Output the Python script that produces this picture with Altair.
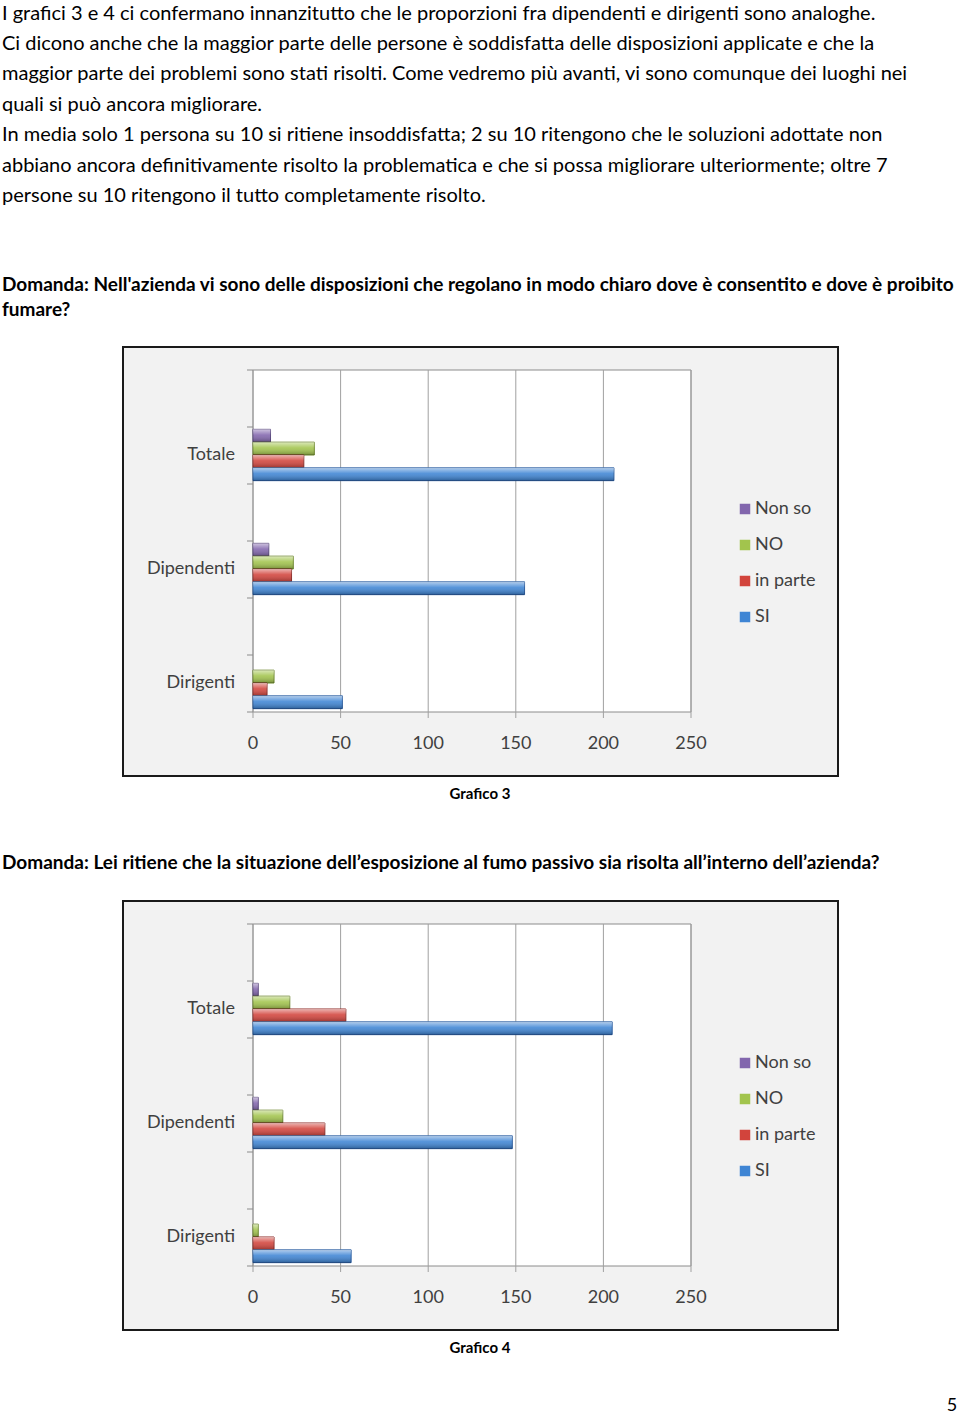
import altair as alt
import pandas as pd

FONT = "Lato"

categories = ["Totale", "Dipendenti", "Dirigenti"]
series = ["Non so", "NO", "in parte", "SI"]

# Grafico 3
g3_non_so = [10, 9, 0]
g3_no = [35, 23, 12]
g3_in_parte = [29, 22, 8]
g3_si = [206, 155, 51]

# Grafico 4
g4_non_so = [3, 3, 0]
g4_no = [21, 17, 3]
g4_in_parte = [53, 41, 12]
g4_si = [205, 148, 56]

x_ticks = [0, 50, 100, 150, 200, 250]

colors = ["#8266ad", "#a2c44d", "#d2443c", "#3f85d4"]
strokes = ["#54427a", "#6b852b", "#8c2824", "#23569a"]

paragraph = [
    "I grafici 3 e 4 ci confermano innanzitutto che le proporzioni fra dipendenti e dirigenti sono analoghe.",
    "Ci dicono anche che la maggior parte delle persone è soddisfatta delle disposizioni applicate e che la",
    "maggior parte dei problemi sono stati risolti. Come vedremo più avanti, vi sono comunque dei luoghi nei",
    "quali si può ancora migliorare.",
    "In media solo 1 persona su 10 si ritiene insoddisfatta; 2 su 10 ritengono che le soluzioni adottate non",
    "abbiano ancora definitivamente risolto la problematica e che si possa migliorare ulteriormente; oltre 7",
    "persone su 10 ritengono il tutto completamente risolto.",
]
question1 = [
    "Domanda: Nell'azienda vi sono delle disposizioni che regolano in modo chiaro dove è consentito e dove è proibito",
    "fumare?",
]
question2 = "Domanda: Lei ritiene che la situazione dell’esposizione al fumo passivo sia risolta all’interno dell’azienda?"


def build_df(non_so, no, in_parte, si):
    rows = []
    for vals, s in zip([non_so, no, in_parte, si], series):
        for c, v in zip(categories, vals):
            rows.append({"categoria": c, "serie": s, "valore": v})
    return pd.DataFrame(rows)


def txt(s, x, y, size=18, weight="normal", align="left", color="black"):
    return alt.Chart(alt.Data(values=[{}])).mark_text(
        text=s, align=align, baseline="middle", fontSize=size,
        fontWeight=weight, font=FONT, color=color
    ).encode(x=alt.value(x), y=alt.value(y))


def chart_layers(df, T):
    deco = alt.Data(values=[{}])
    layers = []
    layers.append(alt.Chart(deco).mark_rect(fill="#f2f2f2", stroke="#1a1a1a", strokeWidth=2).encode(
        x=alt.value(123), x2=alt.value(838), y=alt.value(T), y2=alt.value(T + 429)))
    layers.append(alt.Chart(deco).mark_rect(fill="white", stroke="#8c8c8c", strokeWidth=1).encode(
        x=alt.value(253), x2=alt.value(691), y=alt.value(T + 23), y2=alt.value(T + 365)))

    xs = alt.Scale(domain=[0, 250], range=[253, 691], nice=False, zero=True)
    ys = alt.Scale(domain=categories, range=[T + 51, T + 393], paddingInner=0.55, paddingOuter=0.275)
    yo = alt.Scale(domain=series, paddingInner=0, paddingOuter=0)

    layers.append(alt.Chart(pd.DataFrame({"v": x_ticks})).mark_rule(color="#a0a0a0", strokeWidth=1).encode(
        x=alt.X("v:Q", scale=xs, axis=None), y=alt.value(T + 23), y2=alt.value(T + 371)))
    for k in range(7):
        layers.append(alt.Chart(deco).mark_rule(color="#8c8c8c", strokeWidth=1).encode(
            x=alt.value(247), x2=alt.value(253), y=alt.value(T + 23 + k * 57)))

    enc = dict(
        x=alt.X("valore:Q", scale=xs, axis=None),
        y=alt.Y("categoria:N", scale=ys, axis=None),
        yOffset=alt.YOffset("serie:N", scale=yo, sort=series),
    )
    bars = alt.Chart(df).transform_filter("datum.valore > 0").mark_bar(strokeWidth=1).encode(
        color=alt.Color("serie:N", scale=alt.Scale(domain=series, range=colors),
                        legend=alt.Legend(orient="none", legendX=736, legendY=T + 153, title=None,
                                          symbolType="square", symbolSize=110, symbolStrokeWidth=0,
                                          labelFontSize=18, labelFont=FONT, labelColor="#404040",
                                          rowPadding=18, labelOffset=1, padding=0)),
        stroke=alt.Stroke("serie:N", scale=alt.Scale(domain=series, range=strokes), legend=None),
        **enc,
    )
    shine = alt.Chart(df).transform_filter("datum.valore > 0").mark_bar(
        color=alt.LinearGradient(
            gradient="linear", x1=0, x2=0, y1=0, y2=1,
            stops=[alt.GradientStop(offset=0, color="rgba(255,255,255,0.6)"),
                   alt.GradientStop(offset=0.45, color="rgba(255,255,255,0.12)"),
                   alt.GradientStop(offset=1, color="rgba(0,0,0,0.28)")])
    ).encode(**enc)
    layers += [bars, shine]

    layers.append(alt.Chart(pd.DataFrame({"categoria": categories})).mark_text(
        align="right", baseline="middle", fontSize=18, font=FONT, color="#404040").encode(
        y=alt.Y("categoria:N", scale=ys, axis=None), x=alt.value(235), text="categoria:N"))
    layers.append(alt.Chart(pd.DataFrame({"v": x_ticks})).mark_text(
        align="center", baseline="middle", fontSize=18, font=FONT, color="#404040").encode(
        x=alt.X("v:Q", scale=xs, axis=None), y=alt.value(T + 397), text="v:Q"))
    return layers


df3 = build_df(g3_non_so, g3_no, g3_in_parte, g3_si)
df4 = build_df(g4_non_so, g4_no, g4_in_parte, g4_si)

layers1 = []
for i, line in enumerate(paragraph):
    layers1.append(txt(line, 2, 13.5 + i * 30.4, size=20))
for i, line in enumerate(question1):
    layers1.append(txt(line, 2, 285 + i * 25, size=19, weight="bold"))
layers1 += chart_layers(df3, 347)
layers1.append(txt("Grafico 3", 480, 794, size=15, weight="bold", align="center"))

layers2 = [txt(question2, 2, 43, size=19, weight="bold")]
layers2 += chart_layers(df4, 81)
layers2.append(txt("Grafico 4", 480, 528, size=15, weight="bold", align="center"))
layers2.append(txt("5", 952, 586, size=18, align="center"))

panel1 = alt.layer(*layers1).properties(width=960, height=820)
panel2 = alt.layer(*layers2).properties(width=960, height=593)

chart = alt.vconcat(panel1, panel2, spacing=0, bounds="flush", padding=0).resolve_scale(
    x="independent", y="independent", yOffset="independent", color="independent", stroke="independent"
).resolve_legend(color="independent").configure(
    background="white"
).configure_view(stroke=None, strokeWidth=0)

chart.save("out.html", embed_options={"renderer": "svg", "actions": False})
